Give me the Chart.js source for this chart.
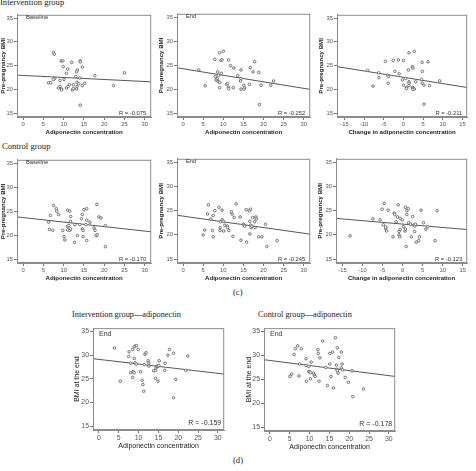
<!DOCTYPE html>
<html><head><meta charset="utf-8">
<script src="https://cdn.jsdelivr.net/npm/chart.js@4/dist/chart.umd.min.js"></script>
<style>
body{margin:0;background:#fff;width:476px;height:471px;position:relative;overflow:hidden}
canvas{position:absolute}
.t{position:absolute;font-family:"Liberation Serif","Times New Roman",serif;font-size:8.6px;color:#222;white-space:nowrap;line-height:1}
</style></head><body>
<div class="t" style="left:0;top:-2px">Intervention group</div>
<div class="t" style="left:2px;top:142px">Control group</div>
<div class="t" style="left:233px;top:288px">(c)</div>
<div class="t" style="left:72px;top:311px;font-size:8.3px">Intervention group—adiponectin</div>
<div class="t" style="left:258px;top:311px;font-size:8.3px">Control group—adiponectin</div>
<div class="t" style="left:233px;top:456px">(d)</div>
<canvas id="c1"></canvas><canvas id="c2"></canvas><canvas id="c3"></canvas>
<canvas id="c4"></canvas><canvas id="c5"></canvas><canvas id="c6"></canvas>
<canvas id="c7"></canvas><canvas id="c8"></canvas>
<script>
// ---- data ----
const adipoTicks = [0, 5, 10, 15, 20, 25, 30];
const changeTicks = [-15, -10, -5, 0, 5, 10, 15];
const bmiTicks = [15, 20, 25, 30, 35];

const intBaselinePts = [[7.5,27.8],[7.7,27.4],[9.4,26.0],[9.8,26.0],[12.0,25.7],[14.1,26.0],[14.1,25.8],[9.9,24.8],[14.6,24.7],[13.4,24.1],[13.2,23.7],[11.0,24.3],[10.7,23.4],[17.7,22.9],[25.0,23.5],[7.8,22.3],[7.5,22.1],[13.0,22.7],[14.0,22.4],[9.1,21.9],[10.1,22.1],[13.3,21.5],[6.3,21.4],[6.8,21.4],[13.7,21.2],[15.2,21.3],[12.4,21.0],[11.4,21.0],[9.1,20.6],[8.7,20.3],[9.5,20.1],[10.7,20.3],[11.1,20.6],[12.2,19.9],[12.4,20.2],[13.2,20.1],[13.3,20.6],[14.6,20.8],[22.3,20.8],[14.1,16.7],[9.5,19.9]];
const intBaselineFit = [[-1.5,23.0],[31.6,21.6]];

const intEndPts = [[3.9,24.0],[5.5,20.7],[7.9,26.2],[9.1,27.6],[10.0,27.9],[9.4,26.0],[9.7,26.1],[11.3,26.1],[11.8,24.9],[12.6,24.4],[8.6,23.6],[9.5,23.3],[8.8,22.9],[8.0,22.6],[8.5,22.2],[8.2,21.9],[8.7,21.6],[9.1,21.4],[10.8,21.0],[11.1,21.2],[9.1,20.3],[11.3,20.4],[11.3,20.1],[12.5,20.3],[13.6,22.8],[14.4,24.0],[14.4,22.2],[14.3,21.7],[15.1,20.8],[15.3,20.3],[15.1,20.0],[14.4,20.0],[16.5,21.0],[16.7,24.5],[17.4,23.6],[17.8,25.7],[18.8,23.5],[19.4,20.8],[19.0,16.8],[21.8,20.8],[22.5,21.7]];
const intEndFit = [[-1.5,24.45],[31.6,19.95]];

const intChangePts = [[-9.1,24.0],[-7.75,20.7],[-6.3,23.5],[-6.25,22.5],[-4.6,25.9],[-4.0,23.0],[-3.8,22.7],[-3.9,21.3],[-2.6,26.1],[-1.3,26.2],[-2.2,23.8],[-1.1,23.3],[0.0,26.1],[-0.25,22.0],[0.0,20.9],[0.75,20.4],[0.75,20.2],[0.6,22.3],[1.4,27.7],[2.75,28.0],[1.25,24.1],[2.25,24.8],[2.4,24.5],[1.4,21.6],[1.4,21.3],[1.4,20.8],[2.3,20.4],[2.4,20.2],[2.75,20.1],[2.4,20.0],[3.1,21.6],[4.75,25.7],[6.25,25.8],[4.8,23.8],[4.6,22.1],[4.75,21.3],[5.2,20.9],[6.6,20.8],[5.2,16.9],[9.2,21.8]];
const intChangeFit = [[-16.9,24.8],[16.2,20.4]];

const ctlBaselinePts = [[6.3,22.7],[6.5,21.2],[7.3,21.0],[6.75,24.1],[7.5,26.2],[8.2,25.5],[8.3,25.0],[8.75,24.3],[9.8,21.0],[10.1,19.7],[10.3,19.0],[11.0,25.2],[11.5,25.0],[11.75,23.9],[10.9,21.8],[11.3,22.0],[11.0,21.1],[11.5,21.0],[11.7,21.3],[11.7,22.9],[12.7,18.5],[12.8,22.2],[13.4,19.9],[14.0,22.2],[14.4,23.4],[14.6,24.3],[15.0,25.3],[15.7,25.5],[14.6,21.3],[14.8,21.0],[14.8,19.7],[15.7,18.9],[15.5,22.2],[15.7,23.1],[16.5,22.7],[17.5,21.5],[18.0,19.9],[18.3,20.1],[18.2,26.4],[18.7,23.8],[19.2,23.6],[20.3,22.0],[20.3,17.6],[17.75,21.0]];
const ctlBaselineFit = [[-1.5,23.8],[31.6,20.7]];

const ctlEndPts = [[5.0,20.0],[5.4,21.0],[6.1,24.3],[6.3,26.2],[6.9,23.3],[7.5,24.0],[7.3,20.9],[7.5,19.6],[7.9,25.0],[8.9,25.7],[9.3,22.7],[9.2,21.5],[9.2,20.9],[9.7,25.1],[9.7,23.1],[10.0,22.8],[10.1,20.8],[10.4,22.0],[11.0,21.8],[11.1,21.5],[11.4,20.9],[12.0,24.8],[12.2,24.3],[12.7,23.6],[12.4,19.7],[13.2,26.4],[14.2,23.7],[14.4,18.9],[15.0,22.2],[15.2,22.0],[15.3,21.8],[15.7,25.2],[15.8,18.5],[16.5,25.0],[16.8,25.3],[16.6,22.8],[16.8,22.0],[16.9,21.5],[17.1,21.8],[16.6,20.2],[17.3,23.6],[17.8,22.7],[18.1,23.7],[18.2,23.3],[17.9,21.5],[18.8,19.6],[19.6,19.6],[20.5,22.2],[20.8,17.6],[23.4,18.8]];
const ctlEndFit = [[-1.5,24.05],[31.6,20.15]];

const ctlChangePts = [[-13.1,19.8],[-7.4,23.3],[-5.6,23.1],[-5.1,25.3],[-4.6,26.5],[-4.8,22.1],[-4.2,21.3],[-4.0,20.8],[-4.2,21.6],[-3.6,25.1],[-2.4,19.6],[-2.1,24.5],[-1.96,24.2],[-1.6,22.7],[-1.3,23.7],[-1.1,26.2],[-0.9,20.7],[-0.9,20.0],[-0.7,19.6],[-0.6,21.1],[-0.6,23.4],[-0.1,23.1],[0.2,21.7],[0.6,20.8],[0.7,21.2],[0.7,25.7],[1.05,25.0],[1.4,25.4],[1.05,24.2],[0.9,17.6],[1.5,22.5],[1.95,22.2],[2.2,19.6],[2.5,23.8],[2.8,22.0],[3.0,21.8],[3.2,22.2],[3.0,20.7],[3.4,18.5],[4.0,18.8],[4.2,19.6],[4.6,25.1],[5.2,22.5],[5.8,21.2],[6.3,21.7],[8.1,18.8],[8.6,25.0]];
const ctlChangeFit = [[-16.6,23.4],[16.1,21.1]];

const intEndBmiPts = [[3.9,31.5],[5.4,24.5],[7.5,29.7],[7.6,30.7],[8.0,28.3],[8.0,26.3],[8.5,31.2],[8.9,31.8],[9.3,32.0],[9.5,32.0],[9.9,31.2],[8.9,29.3],[9.1,28.4],[9.4,28.1],[8.6,26.5],[8.9,26.3],[8.5,25.3],[11.6,30.2],[11.9,30.5],[10.5,26.5],[10.9,24.7],[11.1,23.8],[11.3,22.4],[11.4,28.0],[12.4,28.8],[12.6,28.3],[12.6,27.7],[13.8,26.7],[14.3,26.8],[14.4,27.3],[14.7,27.7],[14.3,25.1],[14.9,24.5],[15.2,28.8],[14.9,27.6],[15.1,27.8],[16.6,26.8],[16.7,28.3],[17.4,30.0],[17.8,31.2],[18.8,30.4],[18.8,21.0],[19.4,24.9],[21.9,26.8],[22.4,29.8]];
const intEndBmiFit = [[-1.5,29.25],[31.6,26.0]];

const ctlEndBmiPts = [[5.0,25.6],[5.5,26.1],[6.1,30.2],[6.4,31.4],[7.0,32.0],[7.3,25.7],[7.5,28.2],[7.9,31.4],[9.1,29.3],[9.1,27.9],[9.2,24.6],[9.8,27.7],[9.8,26.6],[10.0,26.6],[10.2,26.4],[10.2,25.1],[10.4,28.6],[11.0,26.3],[11.2,25.9],[11.4,25.6],[12.1,31.2],[12.2,30.4],[12.6,29.5],[12.4,24.6],[13.3,33.0],[14.1,27.5],[14.5,23.7],[15.1,30.4],[15.1,28.2],[15.4,25.6],[15.8,30.7],[16.0,23.2],[16.5,33.7],[16.8,28.0],[16.9,27.1],[17.0,26.8],[17.2,26.3],[17.0,31.6],[17.4,29.6],[18.0,30.7],[18.2,28.2],[18.0,27.4],[18.3,27.0],[19.0,25.4],[19.8,24.4],[20.7,26.8],[20.9,21.4],[23.6,23.0]];
const ctlEndBmiFit = [[-1.5,29.1],[31.6,25.6]];

const tags = ['Baseline','End','','Baseline','End','','End','End'];
const rLabels = ['R = -0.075','R = -0.252','R = -0.211','R = -0.170','R = -0.245','R = -0.123','R = -0.159','R = -0.178'];
const xTitles = ['Adiponectin concentration','Adiponectin concentration','Change in adiponectin concentration','Adiponectin concentration','Adiponectin concentration','Change in adiponectin concentration','Adiponectin concentration','Adiponectin concentration'];
const yTitles = ['Pre-pregnancy BMI','Pre-pregnancy BMI','Pre-pregnancy BMI','Pre-pregnancy BMI','Pre-pregnancy BMI','Pre-pregnancy BMI','BMI at the end','BMI at the end'];

// ---- layout ----
const F = '"Liberation Sans", Arial, sans-serif';
const panels = [
  {id:'c1', pts:intBaselinePts, fit:intBaselineFit, xt:adipoTicks, xr:[-1.5,31.6], L:17, T:14, W:136, H:103, yW:17, small:true},
  {id:'c2', pts:intEndPts, fit:intEndFit, xt:adipoTicks, xr:[-1.5,31.6], L:177, T:13, W:135, H:104, yW:19, small:true},
  {id:'c3', pts:intChangePts, fit:intChangeFit, xt:changeTicks, xr:[-16.9,16.2], L:337, T:14, W:132, H:103, yW:19, small:true},
  {id:'c4', pts:ctlBaselinePts, fit:ctlBaselineFit, xt:adipoTicks, xr:[-1.5,31.6], L:17, T:159, W:136, H:104, yW:17, small:true},
  {id:'c5', pts:ctlEndPts, fit:ctlEndFit, xt:adipoTicks, xr:[-1.5,31.6], L:177, T:158, W:135, H:105, yW:19, small:true},
  {id:'c6', pts:ctlChangePts, fit:ctlChangeFit, xt:changeTicks, xr:[-16.6,16.1], L:336, T:158, W:133, H:105, yW:19, small:true},
  {id:'c7', pts:intEndBmiPts, fit:intEndBmiFit, xt:adipoTicks, xr:[-1.5,31.6], L:93, T:327, W:133, H:103, yW:20, small:false},
  {id:'c8', pts:ctlEndBmiPts, fit:ctlEndBmiFit, xt:adipoTicks, xr:[-1.5,31.6], L:264, T:327, W:133, H:104, yW:19, small:false}
];

const decor = {
  id:'decor',
  afterDraw(chart, args, o){
    const {ctx, chartArea:a} = chart;
    ctx.save();
    ctx.strokeStyle = '#8c8c8c'; ctx.lineWidth = 1;
    ctx.strokeRect(a.left+0.5, a.top+0.5, a.right-a.left-1, a.bottom-a.top-1);
    ctx.fillStyle = '#333';
    ctx.font = o.fs + 'px ' + F;
    ctx.textBaseline = 'middle';
    ctx.textAlign = 'left';
    if (o.tag) ctx.fillText(o.tag, a.left + o.tagDx, a.top + o.tagDy);
    ctx.textAlign = 'right';
    ctx.fillText(o.r, a.right - o.rDx, a.bottom - o.rDy);
    ctx.restore();
  }
};

panels.forEach((p, i) => {
  const padTop = 4, padRight = 3, xH = p.small ? 20 : 21;
  const cw = p.yW + p.W + padRight, chh = padTop + p.H + xH;
  const cv = document.getElementById(p.id);
  cv.width = cw; cv.height = chh;
  cv.style.left = (p.L - p.yW) + 'px';
  cv.style.top = (p.T - padTop) + 'px';
  const tickFs = p.small ? 5.8 : 6.9;
  const titleFs = p.small ? 6.1 : 7;
  const titleW = p.small ? 'bold' : 'normal';
  new Chart(cv, {
    data: {
      datasets: [
        {type:'scatter', data:p.pts.map(d => ({x:d[0], y:d[1]})), pointStyle:'circle', pointRadius:1.3, pointBorderWidth:0.8,
         borderColor:'#555', backgroundColor:'#fff', order:1},
        {type:'line', data:p.fit.map(d => ({x:d[0], y:d[1]})), borderColor:'#444', borderWidth:0.9, pointRadius:0, fill:false, order:2}
      ]
    },
    options: {
      responsive:false, animation:false, devicePixelRatio:1,
      layout:{padding:{top:padTop, right:padRight, left:0, bottom:0}},
      plugins:{legend:{display:false}, tooltip:{enabled:false},
        decor:{tag:tags[i], r:rLabels[i], fs:p.small?5.8:7, tagDx:p.small?9:6, tagDy:p.small?3:6, rDx:p.small?5:3, rDy:p.small?4:7}},
      scales:{
        x:{type:'linear', min:p.xr[0], max:p.xr[1],
           afterBuildTicks:s => { s.ticks = p.xt.map(v => ({value:v})); },
           afterFit:s => { s.height = xH; },
           grid:{drawOnChartArea:false, drawTicks:true, tickLength:3, color:'#777'},
           border:{display:true, color:'#8c8c8c'},
           ticks:{font:{family:F, size:tickFs}, color:'#555', padding:1, maxRotation:0, autoSkip:false},
           title:{display:true, text:xTitles[i], font:{family:F, size:titleFs, weight:titleW}, color:'#222', padding:{top:0, bottom:1}}},
        y:{type:'linear', min:14.2, max:35.7,
           afterBuildTicks:s => { s.ticks = bmiTicks.map(v => ({value:v})); },
           afterFit:s => { s.width = p.yW; },
           grid:{drawOnChartArea:false, drawTicks:true, tickLength:3, color:'#777'},
           border:{display:true, color:'#8c8c8c'},
           ticks:{font:{family:F, size:tickFs}, color:'#555', padding:1, autoSkip:false},
           title:{display:true, text:yTitles[i], font:{family:F, size:titleFs, weight:titleW}, color:'#222', padding:{top:0, bottom:0}}}
      }
    },
    plugins:[decor]
  });
});
</script>
</body></html>
